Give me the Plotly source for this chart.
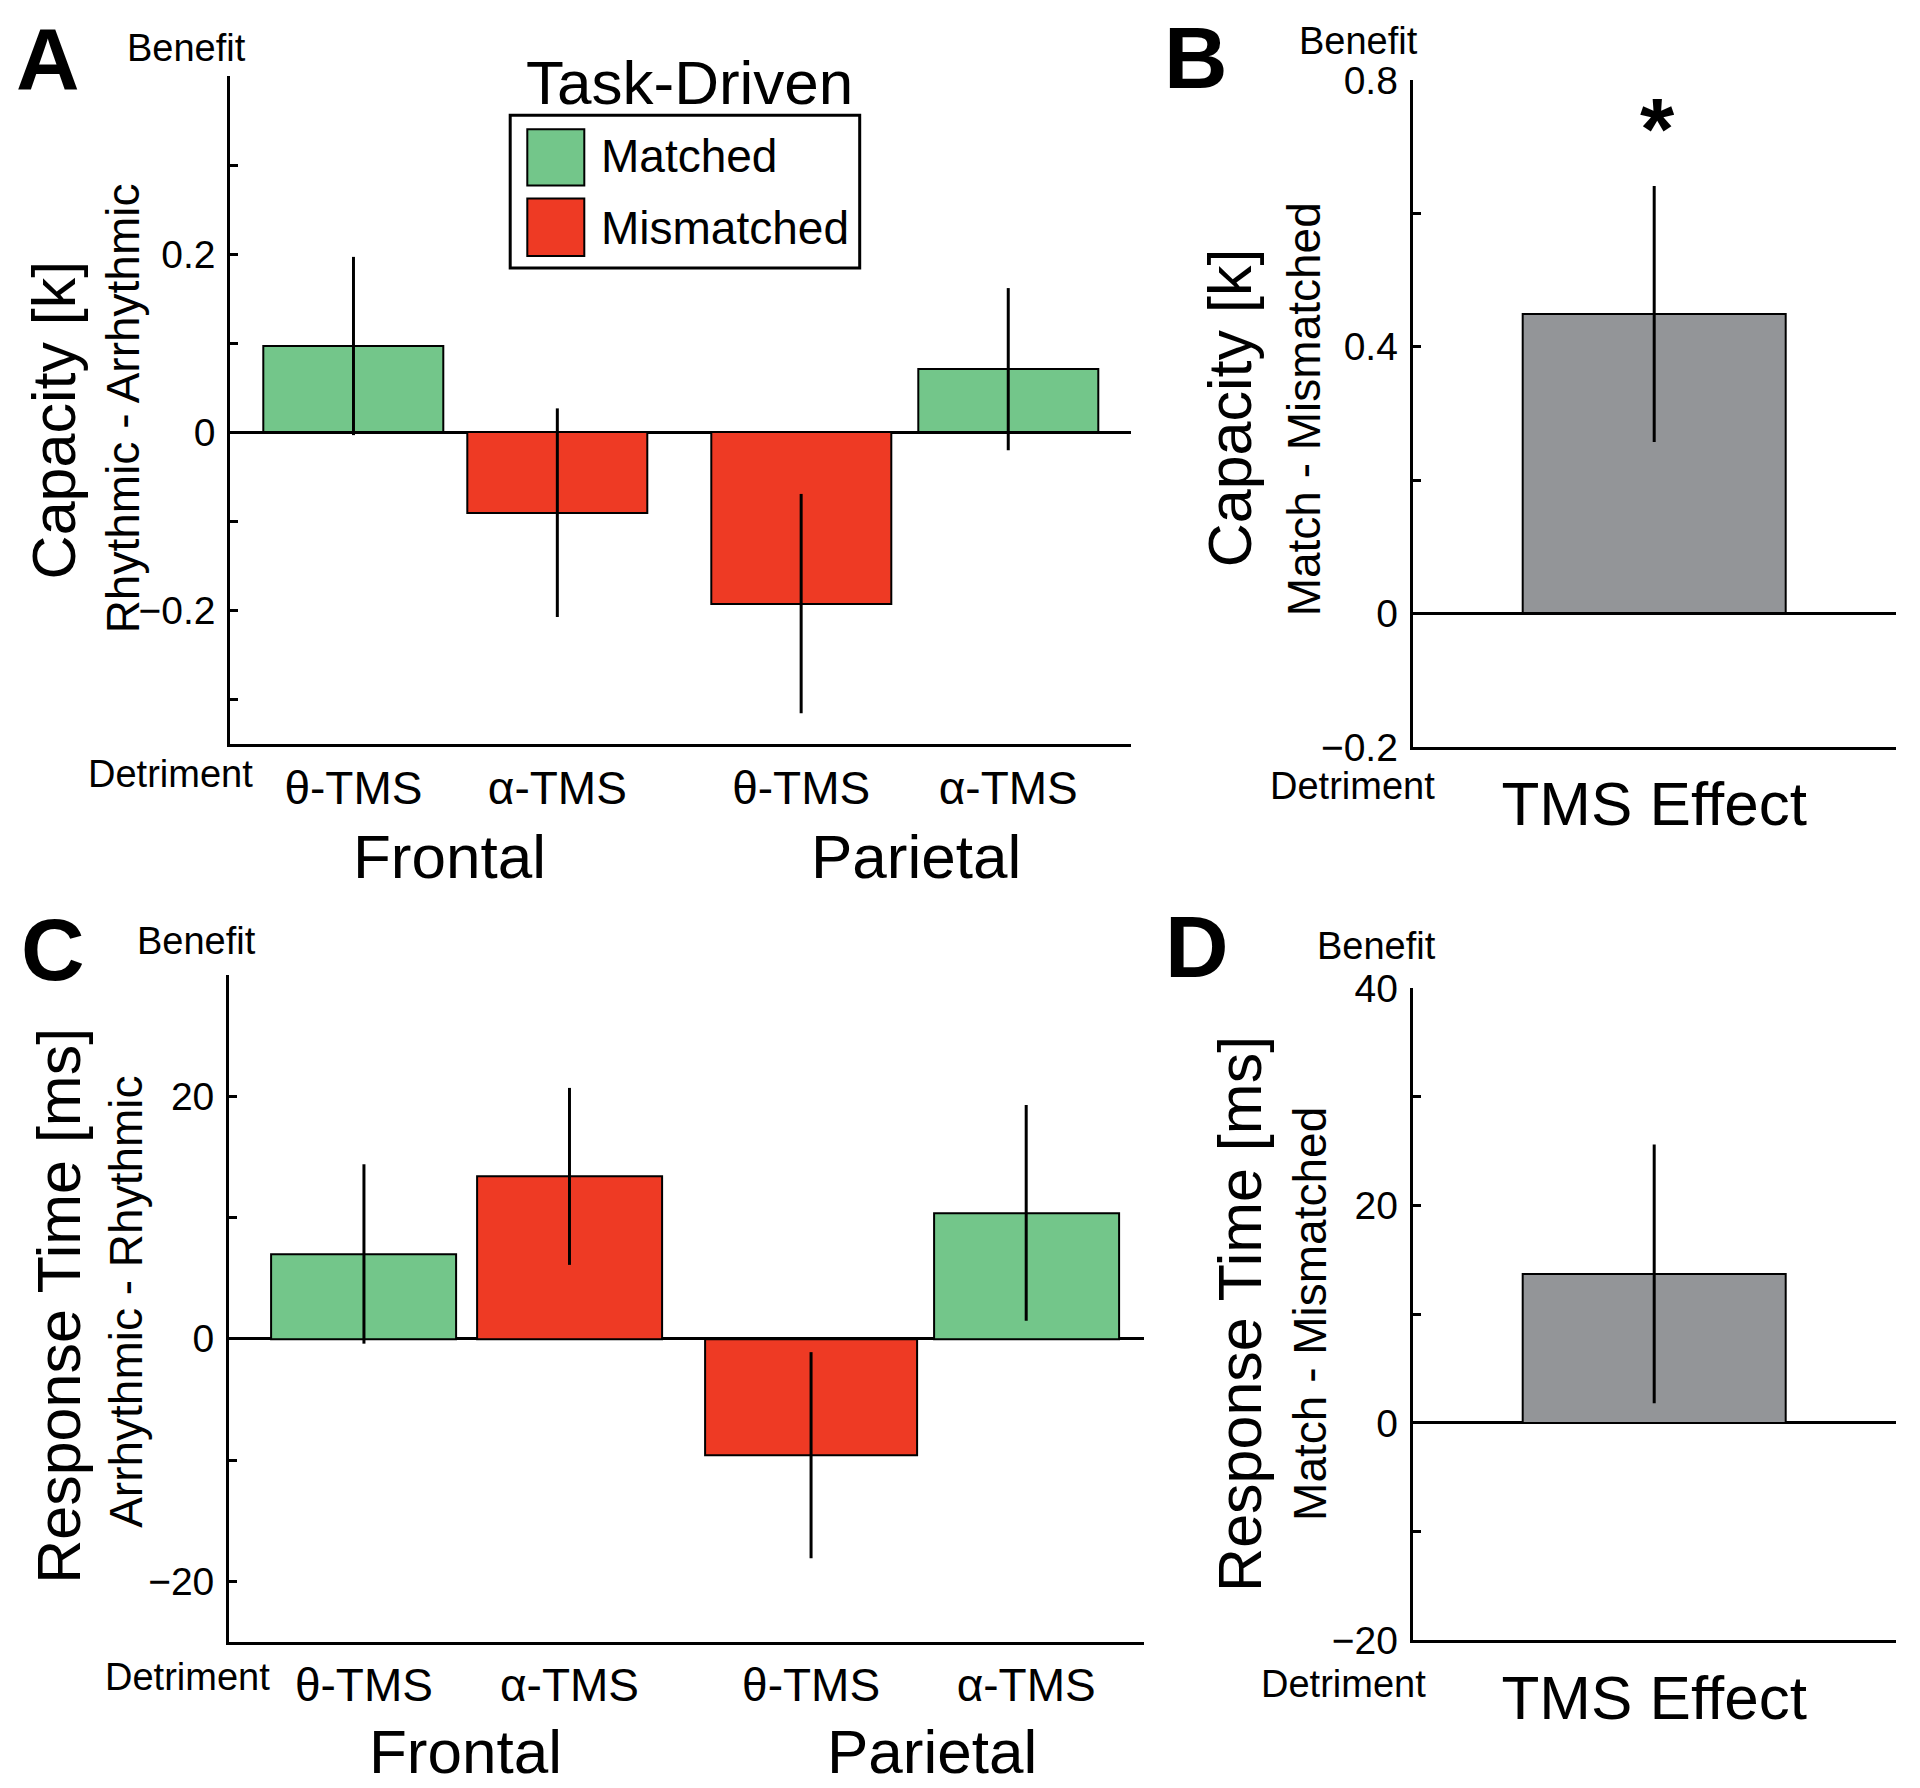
import plotly.graph_objects as go

W, H = 1920, 1788
FONT = "Liberation Sans, Arial, sans-serif"

# ---------------- data ----------------
cond_labels = ["θ-TMS", "α-TMS", "θ-TMS", "α-TMS"]
region_labels = ["Frontal", "Parietal"]
series_names = ["Matched", "Mismatched"]
cond_type = ["Matched", "Mismatched", "Mismatched", "Matched"]

# Panel A: capacity (Rhythmic - Arrhythmic)
cap_vals = [0.097, -0.090, -0.192, 0.071]
cap_err = [0.100, 0.117, 0.123, 0.091]
# Panel B: capacity TMS effect
capB_val = [0.449]
capB_err = [0.192]
# Panel C: response time (Arrhythmic - Rhythmic)
rt_vals = [7.0, 13.4, -9.6, 10.4]
rt_err = [7.4, 7.3, 8.5, 8.9]
# Panel D: RT TMS effect
rtD_val = [13.7]
rtD_err = [11.9]
effect_label = ["TMS Effect"]

capA_ticks = [-0.3, -0.2, -0.1, 0, 0.1, 0.2, 0.3, 0.4]
capA_ticktext = ["", "\u22120.2", "", "0", "", "0.2", "", ""]
capB_ticks = [-0.2, 0, 0.2, 0.4, 0.6, 0.8]
capB_ticktext = ["\u22120.2", "0", "", "0.4", "", "0.8"]
rtC_ticks = [-20, -10, 0, 10, 20, 30]
rtC_ticktext = ["\u221220", "", "0", "", "20", ""]
rtD_ticks = [-20, -10, 0, 10, 20, 30, 40]
rtD_ticktext = ["\u221220", "", "0", "", "20", "", "40"]

# layout (bar positions in bar-width units, per panel)
posA = [0.684, 1.816, 3.17, 4.32]
widA = [1, 1, 1, 1]
posC = [0.729, 1.84, 3.146, 4.309]
widC = [1, 1, 1.149, 1]

COLORS = {"Matched": "#73C68A", "Mismatched": "#EE3A24"}
GREY = "#939598"

def cx(x):
    return x - 7.3

def cy(y):
    return 1.0298 * y - 36.3

def px(x):
    return cx(x) / W

def py(y):
    return 1 - cy(y) / H

fig = go.Figure()

def add_bars(vals, errs, pos, wid, xa, ya, colors):
    fig.add_trace(go.Bar(
        x=pos, y=vals, width=wid,
        marker=dict(color=colors, line=dict(color="black", width=2)),
        error_y=dict(type="data", array=errs, thickness=3, width=0, color="black"),
        xaxis=xa, yaxis=ya, showlegend=False, hoverinfo="skip"))

add_bars(cap_vals, cap_err, posA, widA, "x", "y", [COLORS[c] for c in cond_type])
add_bars(capB_val, capB_err, [0], [1], "x2", "y2", [GREY])
add_bars(rt_vals, rt_err, posC, widC, "x3", "y3", [COLORS[c] for c in cond_type])
add_bars(rtD_val, rtD_err, [0], [1], "x4", "y4", [GREY])

def yax(domain, rng, tv, tt, anchor):
    return dict(domain=domain, range=rng, anchor=anchor, tickvals=tv, ticktext=tt,
                ticks="inside", ticklen=8, tickwidth=3, tickcolor="black",
                showline=True, linecolor="black", linewidth=3, showgrid=False,
                zeroline=True, zerolinecolor="black", zerolinewidth=3,
                tickfont=dict(family=FONT, size=39, color="black"),
                ticklabelstandoff=4, fixedrange=True)

def xax(domain, rng, tv, tt, anchor, size):
    return dict(domain=domain, range=rng, anchor=anchor, tickvals=tv, ticktext=tt,
                ticks="", showline=True, linecolor="black", linewidth=3, showgrid=False,
                zeroline=False, tickfont=dict(family=FONT, size=size, color="black"),
                ticklabelstandoff=1, fixedrange=True)

fig.update_layout(
    width=W, height=H, margin=dict(l=0, r=0, t=0, b=0),
    paper_bgcolor="white", plot_bgcolor="white", bargap=0,
    font=dict(family=FONT, color="black"),
    xaxis=xax([px(229.6), px(1130)], [0, 5], posA, cond_labels, "y", 46),
    yaxis=yax([py(747), py(82)], [-0.35, 0.4], capA_ticks, capA_ticktext, "x"),
    xaxis2=xax([px(1412), px(1895)], [-0.918, 0.918], [0], effect_label, "y2", 62),
    yaxis2=yax([py(749.5), py(86)], [-0.2, 0.8], capB_ticks, capB_ticktext, "x2"),
    xaxis3=xax([px(228.4), px(1143.7)], [0, 4.948], posC, cond_labels, "y3", 46),
    yaxis3=yax([py(1640), py(976.7)], [-25, 30], rtC_ticks, rtC_ticktext, "x3"),
    xaxis4=xax([px(1412), px(1895)], [-0.918, 0.918], [0], effect_label, "y4", 62),
    yaxis4=yax([py(1638.5), py(989.5)], [-20, 40], rtD_ticks, rtD_ticktext, "x4"),
)

ann = []
def text(x, y, s, size, bold=False, angle=0, xanchor="center"):
    ann.append(dict(x=px(x), y=py(y), xref="paper", yref="paper", text=("<b>%s</b>" % s) if bold else s,
                    showarrow=False, textangle=angle, xanchor=xanchor, yanchor="middle",
                    font=dict(family=FONT, size=size, color="black")))

# Panel A
text(47, 65, "A", 88, bold=True)
text(186, 54, "Benefit", 38)
text(170, 777, "Detriment", 38)
text(53, 424, "Capacity [k]", 61, angle=-90)
text(122, 413, "Rhythmic - Arrhythmic", 46, angle=-90)
text(449, 859, region_labels[0], 62)
text(915, 859, region_labels[1], 62)
text(689, 88, "Task-Driven", 62)
# Panel B
text(1195, 64, "B", 88, bold=True)
text(1358, 47, "Benefit", 38)
text(1352, 788, "Detriment", 38)
text(1229, 412, "Capacity [k]", 61, angle=-90)
text(1303, 414, "Match - Mismatched", 46, angle=-90)
text(1657, 134, "*", 88, bold=True)
# Panel C
text(52, 951, "C", 88, bold=True)
text(196, 943, "Benefit", 38)
text(187, 1675, "Detriment", 38)
text(58, 1306, "Response Time [ms]", 61, angle=-90)
text(125, 1302, "Arrhythmic - Rhythmic", 46, angle=-90)
text(465, 1749, region_labels[0], 62)
text(931, 1749, region_labels[1], 62)
# Panel D
text(1196, 948, "D", 88, bold=True)
text(1376, 948, "Benefit", 38)
text(1343, 1682, "Detriment", 38)
text(1239, 1314, "Response Time [ms]", 61, angle=-90)
text(1309, 1314, "Match - Mismatched", 46, angle=-90)

# legend (manual, large swatches)
shapes = [dict(type="rect", xref="paper", yref="paper", x0=px(509.5), x1=px(859), y0=py(273), y1=py(121),
               line=dict(color="black", width=3), fillcolor="white")]
sw_y = [(135, 191), (204, 261)]
txt_y = [162, 233]
for name, (y0, y1), ty in zip(series_names, sw_y, txt_y):
    shapes.append(dict(type="rect", xref="paper", yref="paper", x0=px(526.6), x1=px(583.6),
                       y0=py(y1), y1=py(y0), line=dict(color="black", width=2), fillcolor=COLORS[name]))
    text(598, ty, name, 46, xanchor="left")

fig.update_layout(annotations=ann, shapes=shapes)
fig.write_html("out.html")
